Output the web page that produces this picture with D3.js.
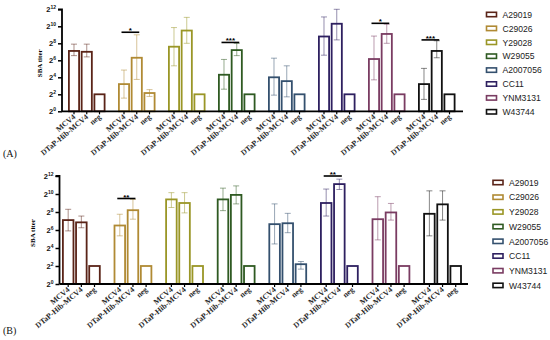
<!DOCTYPE html>
<html><head><meta charset="utf-8">
<script src="https://cdn.jsdelivr.net/npm/d3@7"></script>
<style>body{margin:0;background:#fff}svg{display:block}</style>
</head><body>
<svg id="c" width="550" height="340"></svg>
<script>
// ---- data (log2 SBA titers) ----
const strains = ["A29019","C29026","Y29028","W29055","A2007056","CC11","YNM3131","W43744"];
const colors  = ["#5a2418","#b08a34","#9a9626","#2f5a22","#34506e","#2e2060","#7a3c62","#111111"];
const groups  = ["MCV4","DTaP-Hib-MCV4","neg"];
const yTicks  = [0,2,4,6,8,10,12];

const meansA = [[7.1,7.0,2.0],[3.2,6.3,2.15],[7.6,9.5,2.0],[4.3,7.2,2.0],[4.0,3.55,2.0],[8.8,10.3,2.0],[6.15,9.1,2.0],[3.2,7.1,2.0]];
const lowA   = [[6.55,6.4,null],[1.55,3.75,1.75],[5.35,8.0,null],[2.6,6.55,null],[1.9,1.7,null],[6.6,8.4,null],[3.7,8.0,null],[1.4,6.3,null]];
const highA  = [[7.9,7.9,null],[4.85,9.0,2.55],[9.85,11.05,null],[6.1,8.0,null],[6.25,5.35,null],[11.1,12.0,null],[8.85,10.25,null],[5.05,8.3,null]];
const sigA   = [{g:1,level:9.3,label:"*"},{g:3,level:8.1,label:"***"},{g:6,level:10.35,label:"*"},{g:7,level:8.4,label:"***"}];

const meansB = [[7.1,6.85,2.0],[6.5,8.2,2.0],[9.4,9.0,2.0],[9.4,9.9,2.0],[6.65,6.75,2.2],[9.0,11.1,2.0],[7.2,7.95,2.0],[7.8,8.85,2.0]];
const lowB   = [[5.9,6.25,null],[5.35,7.2,null],[8.5,7.9,null],[8.15,8.9,null],[4.45,5.7,1.65],[7.55,10.5,null],[4.9,7.1,null],[5.35,7.1,null]];
const highB  = [[8.3,7.55,null],[7.75,9.4,null],[10.15,10.15,null],[10.65,10.9,null],[8.9,7.85,2.5],[10.55,11.65,null],[9.7,8.95,null],[10.35,10.35,null]];
const sigB   = [{g:1,level:9.5,label:"**"},{g:5,level:12.0,label:"**"}];

const svg = d3.select("#c");
const serif = "'Liberation Serif','Times New Roman',serif";
const sans = "'Liberation Sans',Arial,sans-serif";

function drawPanel(cfg, means, low, high, sig){
  const g = svg.append("g");
  const y = d3.scaleLinear().domain([0,12]).range([cfg.y0, cfg.y12]);
  const xg = d3.scaleBand().domain(strains).range([cfg.gx0, cfg.gx1]).paddingInner(0.25).paddingOuter(0);
  const xi = d3.scaleBand().domain(groups).range([0, xg.bandwidth()]).paddingInner(0.06);

  strains.forEach((s, si) => {
    const gg = g.append("g").attr("transform", `translate(${xg(s)},0)`);
    groups.forEach((grp, k) => {
      const v = means[si][k];
      gg.append("rect")
        .attr("x", xi(grp)+0.9).attr("width", xi.bandwidth()-1.8)
        .attr("y", y(v)).attr("height", y(0)-y(v))
        .attr("fill", "#fff").attr("stroke", colors[si]).attr("stroke-width", 1.8);
      const lo = low[si][k], hi = high[si][k];
      const cx = xi(grp) + xi.bandwidth()/2;
      if (lo != null) {
        const eb = gg.append("g").attr("stroke", colors[si]).attr("stroke-opacity", 0.5).attr("stroke-width", 1);
        eb.append("line").attr("x1",cx).attr("x2",cx).attr("y1",y(lo)).attr("y2",y(hi));
        eb.append("line").attr("x1",cx-3).attr("x2",cx+3).attr("y1",y(lo)).attr("y2",y(lo));
        eb.append("line").attr("x1",cx-3).attr("x2",cx+3).attr("y1",y(hi)).attr("y2",y(hi));
      }
      gg.append("line").attr("x1",cx).attr("x2",cx).attr("y1",y(0)).attr("y2",y(0)+3)
        .attr("stroke","#000").attr("stroke-width",1.2);
      gg.append("text").attr("transform", `translate(${cx+2},${y(0)+6.5}) rotate(-40)`)
        .attr("text-anchor","end").attr("font-family",serif).attr("font-weight","bold")
        .attr("font-size",7.8).attr("fill","#2a2a2a").text(grp);
    });
  });

  sig.forEach(d => {
    const s = strains[d.g];
    const x1 = xg(s) + xi("MCV4") + xi.bandwidth()/2 - 2.5;
    const x2 = xg(s) + xi("DTaP-Hib-MCV4") + xi.bandwidth()/2 + 2.5;
    g.append("line").attr("x1",x1).attr("x2",x2).attr("y1",y(d.level)).attr("y2",y(d.level))
      .attr("stroke","#000").attr("stroke-width",1.6);
    g.append("text").attr("x",(x1+x2)/2).attr("y",y(d.level)+1).attr("text-anchor","middle")
      .attr("font-family",sans).attr("font-size",8).attr("font-weight","bold").text(d.label);
  });

  const ya = d3.axisLeft(y).tickValues(yTicks).tickSize(4).tickFormat("");
  const yag = g.append("g").attr("transform",`translate(${cfg.ax},0)`).call(ya);
  yag.select(".domain").attr("stroke-width",1.8).attr("d",`M-4,${y(12)}H0V${y(0)}`);
  yag.selectAll(".tick line").attr("stroke-width",1.5);
  yTicks.forEach(t => {
    const tx = g.append("text").attr("x", cfg.ax-6).attr("y", y(t)+2.5).attr("text-anchor","end")
      .attr("font-family",sans).attr("font-weight","bold").attr("font-size",7.5).attr("fill","#111");
    tx.append("tspan").text("2");
    tx.append("tspan").attr("dy",-3).attr("font-size",5).text(t);
  });
  g.append("line").attr("x1",cfg.ax).attr("x2",cfg.axEnd).attr("y1",y(0)).attr("y2",y(0))
    .attr("stroke","#000").attr("stroke-width",1.8);

  g.append("text").attr("transform",`translate(${cfg.ylx},${(y(0)+y(12))/2+3}) rotate(-90)`)
    .attr("text-anchor","middle").attr("font-family",serif).attr("font-weight","bold")
    .attr("font-size",7).text("SBA titer");

  g.append("text").attr("x",3).attr("y",cfg.letterY).attr("font-family",serif)
    .attr("font-size",10).attr("fill","#111").text(cfg.letter);

  const lg = g.append("g");
  strains.forEach((s, i) => {
    const ry = cfg.legY + i*cfg.legStep;
    lg.append("rect").attr("x",cfg.legX).attr("y",ry-2.2).attr("width",10).attr("height",4.4)
      .attr("fill","#fff").attr("stroke",colors[i]).attr("stroke-width",1.6);
    lg.append("text").attr("x",cfg.legX+16).attr("y",ry+3.2).attr("font-family",sans)
      .attr("font-size",8.6).attr("fill","#222").text(s);
  });
}

drawPanel({y0:111.3,y12:9.3,gx0:68,gx1:455.5,ax:62,axEnd:463,ylx:42,letter:"(A)",letterY:157,legX:486.5,legY:14.5,legStep:13.9},
  meansA, lowA, highA, sigA);
drawPanel({y0:284,y12:176,gx0:62,gx1:461.9,ax:59.5,axEnd:468,ylx:35,letter:"(B)",letterY:334,legX:493,legY:182.5,legStep:14.7},
  meansB, lowB, highB, sigB);
</script>
</body></html>
